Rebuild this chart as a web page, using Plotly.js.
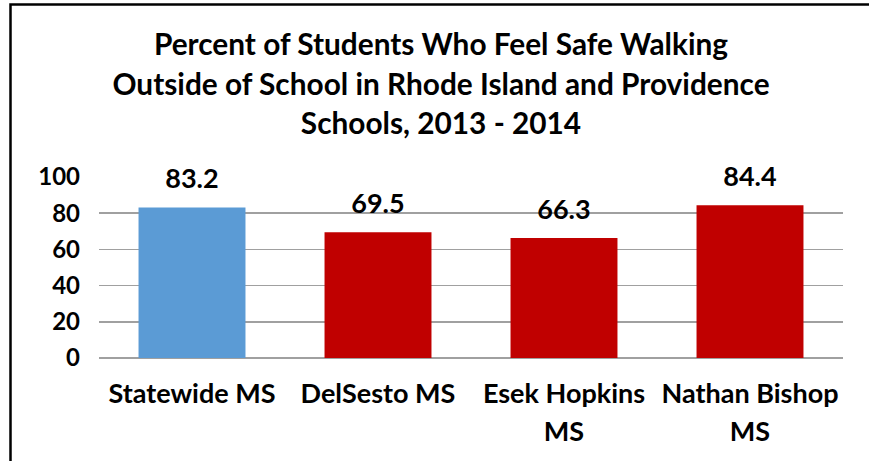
<!DOCTYPE html>
<html>
<head>
<meta charset="utf-8">
<script src="https://cdn.plot.ly/plotly-3.0.1.min.js"></script>
<style>
  html, body { margin: 0; padding: 0; background: #fff; overflow: hidden; }
  #chart { width: 869px; height: 461px; }
</style>
</head>
<body>
<div id="chart"></div>
<script>
const categories = ["Statewide MS", "DelSesto MS", "Esek Hopkins MS", "Nathan Bishop MS"];
const tickLabels = ["Statewide MS", "DelSesto MS", "Esek Hopkins<br>MS", "Nathan Bishop<br>MS"];
const values = [83.2, 69.5, 66.3, 84.4];
const barColors = ["#5b9bd5", "#c00000", "#c00000", "#c00000"];
const titleLines = ["Percent of Students Who Feel Safe Walking", "Outside of School in Rhode Island and Providence", "Schools, 2013 - 2014"];

const FONT = "Lato, 'Open Sans', sans-serif";
const W = 869, H = 461;
const L = 99, R = 26, T = 177, B = 103;
const pw = W - L - R, ph = H - T - B;

const bars = {
  type: "bar",
  x: categories,
  y: values,
  marker: { color: barColors },
  hoverinfo: "skip",
  showlegend: false
};

const labels = {
  type: "scatter",
  mode: "markers+text",
  x: categories,
  y: values,
  text: values.map(v => v.toFixed(1)),
  textposition: "top center",
  textfont: { family: FONT, size: 27, color: "#000", weight: "bold" },
  marker: { size: 18, opacity: 0 },
  cliponaxis: false,
  hoverinfo: "skip",
  showlegend: false
};

const wrap = (t, px) => t.split("<br>").map(s => '<span style="font-size:' + px + 'px">' + s + '</span>').join("<br>");

const layout = {
  width: W, height: H,
  margin: { l: L, r: R, t: T, b: B, pad: 0 },
  paper_bgcolor: "#fff",
  plot_bgcolor: "#fff",
  font: { family: FONT, color: "#000" },
  bargap: 0.425,
  title: {
    text: wrap(titleLines.join("<br>"), 29.8),
    font: { family: FONT, size: 30.5, color: "#000", weight: "bold" },
    x: 441 / W, xref: "container", xanchor: "center",
    y: 1 - 55 / H, yref: "container", yanchor: "top"
  },
  xaxis: {
    type: "category",
    range: [-0.5, 3.5],
    tickmode: "array",
    tickvals: categories,
    ticktext: tickLabels.map(t => wrap(t, 27)),
    tickfont: { family: FONT, size: 29, color: "#000", weight: "bold" },
    ticks: "",
    ticklabelstandoff: 15,
    showgrid: false,
    showline: false,
    zeroline: false,
    automargin: false
  },
  yaxis: {
    range: [0, 100],
    tickmode: "linear",
    tick0: 0, dtick: 20,
    tickfont: { family: FONT, size: 24, color: "#000", weight: "bold" },
    ticks: "",
    ticklabelstandoff: 18,
    showgrid: true,
    gridcolor: "#a0a0a0",
    gridwidth: 1.5,
    zeroline: true,
    zerolinecolor: "#a0a0a0",
    zerolinewidth: 1.5,
    showline: false,
    automargin: false
  },
  shapes: [{
    type: "rect", xref: "paper", yref: "paper",
    x0: (10.5 - L) / pw, x1: (W + 20 - L) / pw,
    y0: (H - B - (H + 20)) / ph, y1: (H - B - 4.5) / ph,
    line: { color: "#000", width: 2.5 },
    fillcolor: "rgba(0,0,0,0)",
    layer: "above"
  }]
};

Plotly.newPlot("chart", [bars, labels], layout, { staticPlot: true, displayModeBar: false });
</script>
</body>
</html>
